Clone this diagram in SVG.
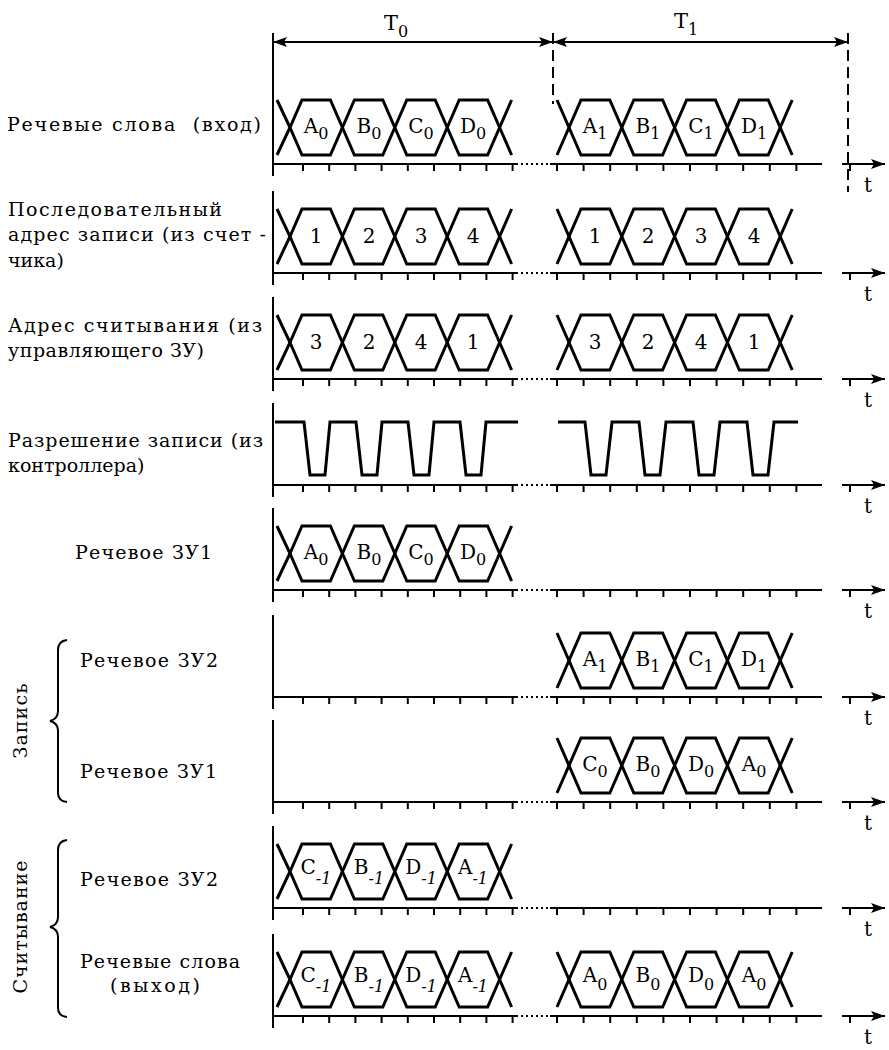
<svg xmlns="http://www.w3.org/2000/svg" xmlns:xlink="http://www.w3.org/1999/xlink" width="889" height="1050" viewBox="0 0 889 1050">
  <style>
    .ln{stroke:#000;fill:none;stroke-width:2}
    .wv{stroke:#000;fill:none;stroke-width:3;stroke-linejoin:miter}
    .dot{stroke:#000;stroke-width:2;stroke-dasharray:2 3}
    .dash{stroke:#000;stroke-width:2;stroke-dasharray:11 6;fill:none}
    text{font-family:"DejaVu Serif","Liberation Serif",serif;fill:#000}
    .lbl{font-size:19px}
    .hx{font-size:20px;text-anchor:middle}
    .sub{font-size:16px}
    .big{font-size:21px}
    .t{font-size:20px;text-anchor:middle}
  </style>
  <defs>
    <marker id="ah" viewBox="0 0 14 10" refX="14" refY="5" markerWidth="14" markerHeight="10" markerUnits="userSpaceOnUse" orient="auto-start-reverse">
      <path d="M0,0 L14,5 L0,10 L3,5 z" fill="#000"/>
    </marker>
    <!-- time axis, drawn around baseline y=0 -->
    <g id="axis">
      <line class="ln" x1="273" y1="-82" x2="273" y2="12"/>
      <line class="ln" x1="273" y1="0" x2="518" y2="0"/>
      <line class="dot" x1="521" y1="0" x2="549" y2="0"/>
      <line class="ln" x1="550" y1="0" x2="822" y2="0"/>
      <path class="ln" d="M303,0v7M329.2,0v7M355.4,0v7M381.6,0v7M407.8,0v7M434,0v7M460.2,0v7M486.4,0v7M512.6,0v7M557,0v7M583.6,0v7M610.2,0v7M636.8,0v7M663.4,0v7M690,0v7M716.6,0v7M743.2,0v7M769.8,0v7M796.4,0v7M850,0v7"/>
      <line class="ln" x1="842" y1="0" x2="885" y2="0" marker-end="url(#ah)"/>
    </g>
    <!-- four-word bus, first period, centred on y=0 -->
    <g id="busT0">
      <polyline class="wv" points="277,27.5 290,0 302,-27.5 330.4,-27.5 342.4,0 354.4,27.5 382.8,27.5 394.8,0 406.8,-27.5 435.2,-27.5 447.2,0 459.2,27.5 487.6,27.5 499.6,0 511.6,-27.5"/>
      <polyline class="wv" points="277,-27.5 290,0 302,27.5 330.4,27.5 342.4,0 354.4,-27.5 382.8,-27.5 394.8,0 406.8,27.5 435.2,27.5 447.2,0 459.2,-27.5 487.6,-27.5 499.6,0 511.6,27.5"/>
    </g>
    <!-- four-word bus, second period -->
    <g id="busT1">
      <polyline class="wv" points="557,27.5 569,0 581,-27.5 609.8,-27.5 621.8,0 633.8,27.5 662.6,27.5 674.6,0 686.6,-27.5 715.4,-27.5 727.4,0 739.4,27.5 768.2,27.5 780.2,0 792.2,-27.5"/>
      <polyline class="wv" points="557,-27.5 569,0 581,27.5 609.8,27.5 621.8,0 633.8,-27.5 662.6,-27.5 674.6,0 686.6,27.5 715.4,27.5 727.4,0 739.4,-27.5 768.2,-27.5 780.2,0 792.2,27.5"/>
    </g>
  </defs>

  <rect width="889" height="1050" fill="#fff"/>

  <!-- period markers T0 / T1 -->
  <g id="connectors">
    <line class="ln" x1="273" y1="33" x2="273" y2="82"/>
    <line class="ln" x1="273" y1="42" x2="553" y2="42" marker-start="url(#ah)" marker-end="url(#ah)"/>
    <line class="ln" x1="553" y1="42" x2="848" y2="42" marker-start="url(#ah)" marker-end="url(#ah)"/>
    <line class="dash" x1="553" y1="33" x2="553" y2="104"/>
    <line class="dash" x1="848" y1="33" x2="848" y2="192"/>
  </g>
  <g id="period-labels">
    <text class="big" x="384" y="30">T<tspan class="sub" dy="7">0</tspan></text>
    <text class="big" x="674" y="28">T<tspan class="sub" dy="7">1</tspan></text>
  </g>

  <!-- speech words in -->
  <g id="row1">
    <text class="lbl" x="7" y="131" textLength="254" xml:space="preserve">Речевые слова  (вход)</text>
    <use xlink:href="#axis" y="164"/>
    <use xlink:href="#busT0" y="127.5"/>
    <use xlink:href="#busT1" y="127.5"/>
    <text class="hx" x="316" y="133">A<tspan class="sub" dy="6">0</tspan></text>
    <text class="hx" x="369" y="133">B<tspan class="sub" dy="6">0</tspan></text>
    <text class="hx" x="421" y="133">C<tspan class="sub" dy="6">0</tspan></text>
    <text class="hx" x="473" y="133">D<tspan class="sub" dy="6">0</tspan></text>
    <text class="hx" x="595" y="133">A<tspan class="sub" dy="6">1</tspan></text>
    <text class="hx" x="648" y="133">B<tspan class="sub" dy="6">1</tspan></text>
    <text class="hx" x="701" y="133">C<tspan class="sub" dy="6">1</tspan></text>
    <text class="hx" x="754" y="133">D<tspan class="sub" dy="6">1</tspan></text>
    <text class="t" x="868" y="192">t</text>
  </g>

  <!-- sequential write address -->
  <g id="row2">
    <text class="lbl" x="8" y="216" textLength="214">Последовательный</text>
    <text class="lbl" x="8" y="241" textLength="258">адрес записи (из счет -</text>
    <text class="lbl" x="8" y="267">чика)</text>
    <use xlink:href="#axis" y="273"/>
    <use xlink:href="#busT0" y="236.5"/>
    <use xlink:href="#busT1" y="236.5"/>
    <text class="hx" x="316" y="243">1</text>
    <text class="hx" x="369" y="243">2</text>
    <text class="hx" x="421" y="243">3</text>
    <text class="hx" x="473" y="243">4</text>
    <text class="hx" x="595" y="243">1</text>
    <text class="hx" x="648" y="243">2</text>
    <text class="hx" x="701" y="243">3</text>
    <text class="hx" x="754" y="243">4</text>
    <text class="t" x="868" y="301">t</text>
  </g>

  <!-- read address -->
  <g id="row3">
    <text class="lbl" x="8" y="332" textLength="254">Адрес считывания (из</text>
    <text class="lbl" x="8" y="357" textLength="196">управляющего ЗУ)</text>
    <use xlink:href="#axis" y="379"/>
    <use xlink:href="#busT0" y="342.5"/>
    <use xlink:href="#busT1" y="342.5"/>
    <text class="hx" x="316" y="349">3</text>
    <text class="hx" x="369" y="349">2</text>
    <text class="hx" x="421" y="349">4</text>
    <text class="hx" x="473" y="349">1</text>
    <text class="hx" x="595" y="349">3</text>
    <text class="hx" x="648" y="349">2</text>
    <text class="hx" x="701" y="349">4</text>
    <text class="hx" x="754" y="349">1</text>
    <text class="t" x="868" y="407">t</text>
  </g>

  <!-- write enable -->
  <g id="row4">
    <text class="lbl" x="8" y="447" textLength="255">Разрешение записи (из</text>
    <text class="lbl" x="8" y="472">контроллера)</text>
    <use xlink:href="#axis" y="485"/>
    <polyline class="wv" points="275,422 304,422 310,475 325,475 330,422 356,422 362,475 377,475 382,422 408,422 414,475 429,475 434,422 460,422 466,475 481,475 486,422 518,422"/>
    <polyline class="wv" points="558,422 585,422 591,475 606,475 612,422 639,422 645,475 660,475 666,422 693,422 699,475 714,475 720,422 747,422 753,475 768,475 774,422 798,422"/>
    <text class="t" x="868" y="513">t</text>
  </g>

  <!-- speech memory 1 -->
  <g id="row5">
    <text class="lbl" x="75" y="559" textLength="137">Речевое ЗУ1</text>
    <use xlink:href="#axis" y="590"/>
    <use xlink:href="#busT0" y="553.5"/>
    <text class="hx" x="316" y="559">A<tspan class="sub" dy="6">0</tspan></text>
    <text class="hx" x="369" y="559">B<tspan class="sub" dy="6">0</tspan></text>
    <text class="hx" x="421" y="559">C<tspan class="sub" dy="6">0</tspan></text>
    <text class="hx" x="473" y="559">D<tspan class="sub" dy="6">0</tspan></text>
    <text class="t" x="868" y="618">t</text>
  </g>

  <!-- write: speech memory 2 -->
  <g id="row6">
    <text class="lbl" x="80" y="667" textLength="138">Речевое ЗУ2</text>
    <use xlink:href="#axis" y="697"/>
    <use xlink:href="#busT1" y="660.5"/>
    <text class="hx" x="595" y="666">A<tspan class="sub" dy="6">1</tspan></text>
    <text class="hx" x="648" y="666">B<tspan class="sub" dy="6">1</tspan></text>
    <text class="hx" x="701" y="666">C<tspan class="sub" dy="6">1</tspan></text>
    <text class="hx" x="754" y="666">D<tspan class="sub" dy="6">1</tspan></text>
    <text class="t" x="868" y="725">t</text>
  </g>

  <!-- write: speech memory 1 -->
  <g id="row7">
    <text class="lbl" x="80" y="778" textLength="137">Речевое ЗУ1</text>
    <use xlink:href="#axis" y="802"/>
    <use xlink:href="#busT1" y="765.5"/>
    <text class="hx" x="595" y="771">C<tspan class="sub" dy="6">0</tspan></text>
    <text class="hx" x="648" y="771">B<tspan class="sub" dy="6">0</tspan></text>
    <text class="hx" x="701" y="771">D<tspan class="sub" dy="6">0</tspan></text>
    <text class="hx" x="754" y="771">A<tspan class="sub" dy="6">0</tspan></text>
    <text class="t" x="868" y="830">t</text>
  </g>

  <!-- read: speech memory 2 -->
  <g id="row8">
    <text class="lbl" x="80" y="886" textLength="138">Речевое ЗУ2</text>
    <use xlink:href="#axis" y="908"/>
    <use xlink:href="#busT0" y="871.5"/>
    <text class="hx" x="316" y="874">C<tspan class="sub" dy="10" font-style="italic">-1</tspan></text>
    <text class="hx" x="369" y="874">B<tspan class="sub" dy="10" font-style="italic">-1</tspan></text>
    <text class="hx" x="421" y="874">D<tspan class="sub" dy="10" font-style="italic">-1</tspan></text>
    <text class="hx" x="473" y="874">A<tspan class="sub" dy="10" font-style="italic">-1</tspan></text>
    <text class="t" x="868" y="936">t</text>
  </g>

  <!-- speech words out -->
  <g id="row9">
    <text class="lbl" x="80" y="968" textLength="160">Речевые слова</text>
    <text class="lbl" x="110" y="992" textLength="90">(выход)</text>
    <use xlink:href="#axis" y="1016"/>
    <use xlink:href="#busT0" y="979.5"/>
    <use xlink:href="#busT1" y="979.5"/>
    <text class="hx" x="316" y="982">C<tspan class="sub" dy="10" font-style="italic">-1</tspan></text>
    <text class="hx" x="369" y="982">B<tspan class="sub" dy="10" font-style="italic">-1</tspan></text>
    <text class="hx" x="421" y="982">D<tspan class="sub" dy="10" font-style="italic">-1</tspan></text>
    <text class="hx" x="473" y="982">A<tspan class="sub" dy="10" font-style="italic">-1</tspan></text>
    <text class="hx" x="595" y="982">A<tspan class="sub" dy="8">0</tspan></text>
    <text class="hx" x="648" y="982">B<tspan class="sub" dy="8">0</tspan></text>
    <text class="hx" x="701" y="982">D<tspan class="sub" dy="8">0</tspan></text>
    <text class="hx" x="754" y="982">A<tspan class="sub" dy="8">0</tspan></text>
    <text class="t" x="868" y="1044">t</text>
  </g>

  <!-- brace: write -->
  <g id="write-brace">
    <path class="ln" d="M67,640 Q58,641 58,650 L58,711 Q58,719 50,721 Q58,723 58,731 L58,793 Q58,801 67,802"/>
    <text class="lbl" transform="translate(27,721) rotate(-90)" text-anchor="middle" textLength="75">Запись</text>
  </g>

  <!-- brace: read -->
  <g id="read-brace">
    <path class="ln" d="M67,840 Q58,841 58,850 L58,917 Q58,925 50,927 Q58,929 58,937 L58,1008 Q58,1016 67,1017"/>
    <text class="lbl" transform="translate(27,927) rotate(-90)" text-anchor="middle" textLength="133">Считывание</text>
  </g>
</svg>
